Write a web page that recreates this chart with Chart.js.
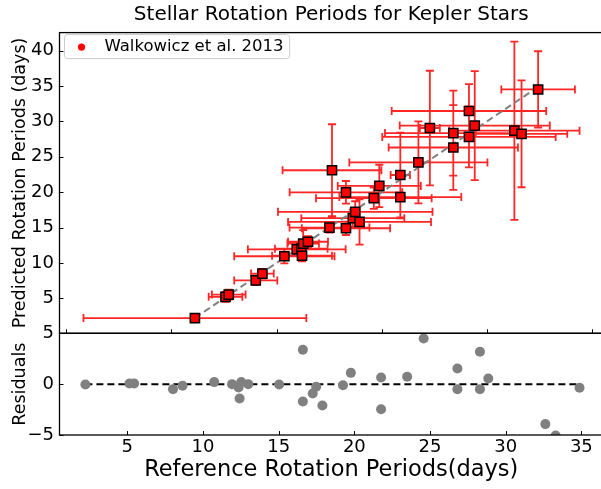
<!DOCTYPE html>
<html>
<head>
<meta charset="utf-8">
<title>Stellar Rotation Periods for Kepler Stars</title>
<script src="https://cdn.jsdelivr.net/npm/chart.js@4.4.1/dist/chart.umd.min.js"></script>
<style>
    html, body { margin: 0; padding: 0; background: #fff; }
    #wrap { position: relative; width: 601px; height: 489px; overflow: hidden; background: #fff; }
    #top-chart { position: absolute; left: 0; top: 0; }
    #res-chart { position: absolute; left: 0; top: 310px; }
</style>
</head>
<body>
<div id="wrap">
    <canvas id="top-chart"></canvas>
    <canvas id="res-chart"></canvas>
</div>
<script>
// Reference periods (days) and their errors
var refPeriod = [2.23, 5.14, 5.45, 8.02, 8.65, 10.74, 11.92, 12.35, 12.42, 12.53, 12.99, 15.03, 15.27, 16.60, 16.60, 17.25,
    17.48, 17.89, 19.25, 19.77, 21.77, 21.77, 23.49, 24.58, 26.81, 26.81, 28.30, 28.30, 28.85, 32.62, 33.30, 34.88];
var refErr = [10.6, 1.6, 1.6, 2.05, 1.08, 4.77, 4.65, 2.5, 2.85, 1.5, 1.9, 3.8, 4.7, 5.36, 4.2, 4.9,
    7.35, 6.8, 5.5, 3.95, 0.92, 5.8, 6.57, 0.95, 6.5, 6.15, 7.35, 8.25, 7.14, 6.2, 4.35, 3.5];

// Predicted periods (days) and their errors
var predPeriod = [2.20, 5.21, 5.52, 7.53, 8.49, 10.94, 11.92, 12.02, 11.01, 12.73, 12.99, 15.00, 23.10, 19.98, 14.90, 16.33,
    17.22, 15.79, 19.15, 20.88, 22.43, 19.31, 24.21, 29.07, 28.35, 26.32, 31.48, 27.81, 29.41, 28.69, 28.25, 34.52];
var predErr = [0, 0.7, 0.7, 0.66, 0.66, 1.0, 0.6, 0.6, 0.8, 1.9, 0.8, 0.7, 6.5, 1.6, 0.95, 1.2,
    1.5, 3.2, 1.5, 3.0, 6.0, 3.0, 5.8, 8.1, 6.0, 6.0, 3.8, 4.3, 7.7, 12.6, 7.55, 5.4];

// Predicted minus reference
var residual = [-0.03, 0.07, 0.07, -0.49, -0.16, 0.20, 0.00, -0.33, -1.41, 0.20, 0.00, -0.03, 7.83, 3.38, -1.70, -0.92,
    -0.26, -2.10, -0.10, 1.11, 0.66, -2.46, 0.72, 4.49, 1.54, -0.49, 3.18, -0.49, 0.56, -3.93, -5.05, -0.36];

// Tick positions
var topXTicks = [-10, 0, 10, 20, 30, 40];
var topYTicks = [5, 10, 15, 20, 25, 30, 35, 40];
var resXTicks = [5, 10, 15, 20, 25, 30, 35];
var resYTicks = [-5, 0, 5];

var FONT = '"DejaVu Sans", sans-serif';
Chart.defaults.font.family = FONT;
Chart.defaults.color = '#000';


function setTicks(list) {
    return function (scale) {
        scale.ticks = list.map(function (v) { return { value: v }; });
    };
}

function minusSign(value) {
    return String(value).replace('-', '\u2212');
}


// Error bars, drawn under the markers
var errorBars = {
    id: 'errorBars',
    beforeDatasetsDraw: function (chart) {
        var ctx = chart.ctx, a = chart.chartArea;
        var xs = chart.scales.x, ys = chart.scales.y;
        var cap = 4;
        ctx.save();
        ctx.beginPath();
        ctx.rect(a.left, a.top, a.right - a.left, a.bottom - a.top);
        ctx.clip();
        ctx.strokeStyle = 'rgba(255, 0, 0, 0.85)';
        ctx.lineWidth = 1.8;
        ctx.beginPath();
        for (var i = 0; i < refPeriod.length; i++) {
            var px = xs.getPixelForValue(refPeriod[i]);
            var py = ys.getPixelForValue(predPeriod[i]);
            if (refErr[i] > 0) {
                var x0 = xs.getPixelForValue(refPeriod[i] - refErr[i]);
                var x1 = xs.getPixelForValue(refPeriod[i] + refErr[i]);
                ctx.moveTo(x0, py); ctx.lineTo(x1, py);
                ctx.moveTo(x0, py - cap); ctx.lineTo(x0, py + cap);
                ctx.moveTo(x1, py - cap); ctx.lineTo(x1, py + cap);
            }
            if (predErr[i] > 0) {
                var y0 = ys.getPixelForValue(predPeriod[i] - predErr[i]);
                var y1 = ys.getPixelForValue(predPeriod[i] + predErr[i]);
                ctx.moveTo(px, y0); ctx.lineTo(px, y1);
                ctx.moveTo(px - cap, y0); ctx.lineTo(px + cap, y0);
                ctx.moveTo(px - cap, y1); ctx.lineTo(px + cap, y1);
            }
        }
        ctx.stroke();
        ctx.restore();
    }
};


// Box round the plot and inward tick marks
var frame = {
    id: 'frame',
    afterDraw: function (chart) {
        var ctx = chart.ctx, a = chart.chartArea;
        var xs = chart.scales.x, ys = chart.scales.y;
        ctx.save();
        ctx.strokeStyle = '#000';
        ctx.lineWidth = 1;
        ctx.beginPath();
        xs.ticks.forEach(function (t) {
            var p = Math.round(xs.getPixelForValue(t.value)) + 0.5;
            ctx.moveTo(p, a.bottom); ctx.lineTo(p, a.bottom - 4);
        });
        ys.ticks.forEach(function (t) {
            var p = Math.round(ys.getPixelForValue(t.value)) + 0.5;
            ctx.moveTo(a.left, p); ctx.lineTo(a.left + 4, p);
        });
        ctx.stroke();
        ctx.lineWidth = 1.3;
        ctx.strokeRect(a.left, a.top, a.right - a.left, a.bottom - a.top);
        ctx.restore();
    }
};


// Legend box in the upper left corner
var legendBox = {
    id: 'legendBox',
    afterDraw: function (chart) {
        var ctx = chart.ctx, a = chart.chartArea;
        var label = chart.data.datasets[0].label;
        ctx.save();
        ctx.font = '16.5px ' + FONT;
        var w = ctx.measureText(label).width;
        var bx = a.left + 5, by = a.top + 2, bw = w + 46, bh = 24, r = 3;
        ctx.beginPath();
        ctx.moveTo(bx + r, by);
        ctx.arcTo(bx + bw, by, bx + bw, by + bh, r);
        ctx.arcTo(bx + bw, by + bh, bx, by + bh, r);
        ctx.arcTo(bx, by + bh, bx, by, r);
        ctx.arcTo(bx, by, bx + bw, by, r);
        ctx.closePath();
        ctx.fillStyle = 'rgba(255, 255, 255, 0.8)';
        ctx.fill();
        ctx.strokeStyle = '#cccccc';
        ctx.lineWidth = 1;
        ctx.stroke();
        ctx.fillStyle = '#ff0000';
        ctx.beginPath();
        ctx.arc(bx + 17, by + 12.5, 3.6, 0, Math.PI * 2);
        ctx.fill();
        ctx.fillStyle = '#000';
        ctx.textBaseline = 'alphabetic';
        ctx.fillText(label, bx + 40, by + 16);
        ctx.restore();
    }
};


// Predicted against reference periods
var topData = refPeriod.map(function (v, i) { return { x: v, y: predPeriod[i] }; });
var last = refPeriod.length - 1;

var ctx1 = document.getElementById('top-chart');
ctx1.style.width = '620px';
ctx1.style.height = '360px';
var myChart1 = new Chart(ctx1, {
    type: 'scatter',
    data: {
        datasets: [{
            label: 'Walkowicz et al. 2013',
            data: topData,
            pointStyle: 'rect',
            pointRadius: 6.5,
            backgroundColor: '#ff0000',
            borderColor: '#000000',
            borderWidth: 1.5,
            order: 0
        },
        {
            label: 'one to one',
            data: [{ x: refPeriod[0], y: refPeriod[0] }, { x: refPeriod[last], y: refPeriod[last] }],
            showLine: true,
            pointRadius: 0,
            borderColor: '#808080',
            borderWidth: 2,
            borderDash: [7, 4],
            order: 1
        }]
    },
    options: {
        responsive: false,
        animation: false,
        events: [],
        layout: { padding: { left: 0, right: 17, top: 0, bottom: 26.7 } },
        plugins: {
            legend: { display: false },
            tooltip: { enabled: false },
            title: {
                display: true,
                fullSize: false,
                text: 'Stellar Rotation Periods for Kepler Stars',
                color: '#000',
                font: { family: FONT, size: 20, weight: 'normal' },
                padding: { top: 3, bottom: 5.6 }
            }
        },
        scales: {
            x: {
                type: 'linear',
                min: -10.65,
                max: 41.05,
                afterBuildTicks: setTicks(topXTicks),
                afterFit: function (s) { s.height = 0; },
                ticks: { display: false },
                grid: { display: false, drawTicks: false },
                border: { display: false }
            },
            y: {
                type: 'linear',
                min: 0.05,
                max: 42.56,
                afterBuildTicks: setTicks(topYTicks),
                afterFit: function (s) { s.width = 59.5; },
                ticks: { color: '#000', font: { family: FONT, size: 18 }, padding: 5.5 },
                grid: { display: false, drawTicks: false },
                border: { display: false },
                title: {
                    display: true,
                    text: 'Predicted Rotation Periods (days)',
                    color: '#000',
                    font: { family: FONT, size: 17.5 },
                    padding: { top: 10, bottom: 0 }
                }
            }
        }
    },
    plugins: [errorBars, frame, legendBox]
});


// Residuals panel
var resData = refPeriod.map(function (v, i) { return { x: v, y: residual[i] }; });

var ctx2 = document.getElementById('res-chart');
ctx2.style.width = '620px';
ctx2.style.height = '179px';
var myChart2 = new Chart(ctx2, {
    type: 'scatter',
    data: {
        datasets: [{
            label: 'Residuals',
            data: resData,
            pointRadius: 5,
            backgroundColor: '#808080',
            borderWidth: 0,
            order: 0
        },
        {
            label: 'zero',
            data: [{ x: refPeriod[0], y: 0 }, { x: refPeriod[last], y: 0 }],
            showLine: true,
            pointRadius: 0,
            borderColor: '#000000',
            borderWidth: 2,
            borderDash: [7, 4],
            order: 1
        }]
    },
    options: {
        responsive: false,
        animation: false,
        events: [],
        layout: { padding: { left: 0, right: 17, top: 23.3, bottom: 0 } },
        plugins: {
            legend: { display: false },
            tooltip: { enabled: false }
        },
        scales: {
            x: {
                type: 'linear',
                min: 0.52,
                max: 36.43,
                afterBuildTicks: setTicks(resXTicks),
                afterFit: function (s) { s.height = 54; },
                ticks: { color: '#000', font: { family: FONT, size: 18 }, padding: 2 },
                grid: { display: false, drawTicks: false },
                border: { display: false },
                title: {
                    display: true,
                    text: 'Reference Rotation Periods(days)',
                    color: '#000',
                    font: { family: FONT, size: 22.5 },
                    padding: { top: 0, bottom: 5 }
                }
            },
            y: {
                type: 'linear',
                min: -5,
                max: 5,
                afterBuildTicks: setTicks(resYTicks),
                afterFit: function (s) { s.width = 59.5; },
                ticks: { color: '#000', font: { family: FONT, size: 18 }, padding: 5.5, callback: minusSign },
                grid: { display: false, drawTicks: false },
                border: { display: false },
                title: {
                    display: true,
                    text: 'Residuals',
                    color: '#000',
                    font: { family: FONT, size: 17.5 },
                    padding: { top: 10, bottom: 0 }
                }
            }
        }
    },
    plugins: [frame]
});
</script>
</body>
</html>
